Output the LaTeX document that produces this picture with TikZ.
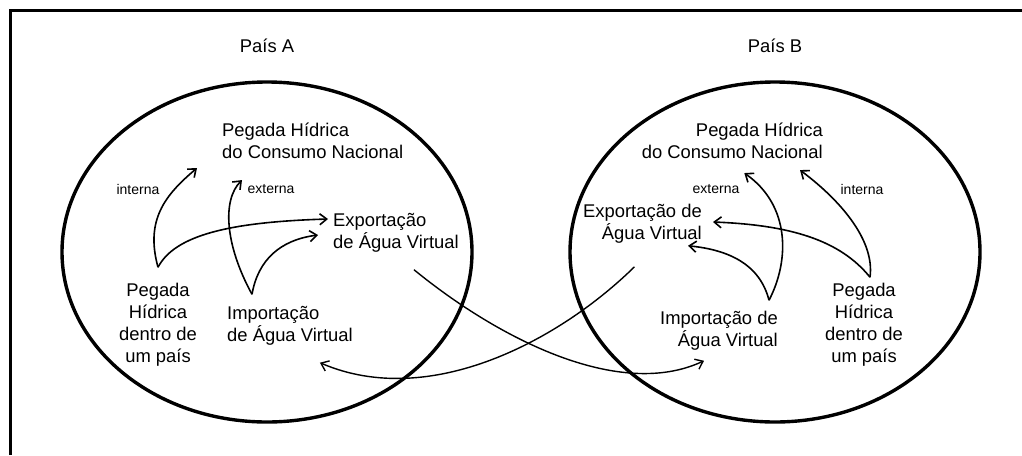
\documentclass[tikz,border=0pt]{standalone}
\usepackage{fontspec}
\setmainfont{Liberation Sans}
\usetikzlibrary{shapes.geometric, arrows.meta, positioning}

\begin{document}
\begin{tikzpicture}[x=1pt, y=-1pt, node distance=2cm]
    \tikzstyle{country} = [ellipse, draw=black, line width=3.4pt, minimum width=410pt, minimum height=340pt, inner sep=0pt]
    \tikzstyle{title} = [inner sep=0pt, font=\fontsize{18.4}{22}\selectfont]
    \tikzstyle{block} = [inner sep=0pt, font=\fontsize{18.4}{22}\selectfont]
    \tikzstyle{tag} = [inner sep=0pt, font=\fontsize{14}{16}\selectfont]
    \tikzstyle{arrow} = [line width=1.6pt, -{Straight Barb[length=7pt,width=11pt]}]
    \tikzstyle{flow} = [line width=1.4pt, -{Straight Barb[length=7pt,width=11pt]}]

    \useasboundingbox (0,0) rectangle (1022,455);
    \draw [line width=3pt] (10,455) |- (1022,10);

    \node (paisA) [country] at (267,252) {};
    \node (paisB) [country] at (775,252) {};
    \node (titA) [title, above=27pt of paisA] {País A};
    \node (titB) [title, above=27pt of paisB] {País B};

    \node (conA) [block, align=left, anchor=west] at (222,141) {Pegada Hídrica\\do Consumo Nacional};
    \node (expA) [block, align=left, anchor=west] at (333,233) {Exportação\\de Água Virtual};
    \node (pegA) [block, align=center] at (158,325) {Pegada\\Hídrica\\dentro de\\um país};
    \node (impA) [block, align=left, anchor=west] at (227,326) {Importação\\de Água Virtual};
    \node (intA) [tag] at (138,189) {interna};
    \node (extA) [tag] at (271,189) {externa};

    \node (conB) [block, align=right, anchor=east] at (823,141) {Pegada Hídrica\\do Consumo Nacional};
    \node (expB) [block, align=right, anchor=east] at (702,224) {Exportação de\\Água Virtual};
    \node (impB) [block, align=right, anchor=east] at (778,331) {Importação de\\Água Virtual};
    \node (pegB) [block, align=center] at (864,325) {Pegada\\Hídrica\\dentro de\\um país};
    \node (extB) [tag] at (716,189) {externa};
    \node (intB) [tag] at (862,189) {interna};

    % inside A
    \draw [arrow] ([yshift=16pt]pegA.north) .. controls (145,220) and (165,195) .. ([xshift=-25pt,yshift=-9pt]conA.south west);
    \draw [arrow] ([yshift=16pt]pegA.north) .. controls (175,235) and (230,222) .. ([xshift=-5pt,yshift=14pt]expA.west);
    \draw [arrow] ([xshift=25pt,yshift=12pt]impA.north west) .. controls (225,245) and (222,200) .. ([xshift=20pt,yshift=-21pt]conA.south west);
    \draw [arrow] ([xshift=25pt,yshift=12pt]impA.north west) .. controls (258,260) and (280,240) .. ([xshift=-15pt,yshift=-2pt]expA.west);

    % inside B
    \draw [arrow] ([xshift=6pt,yshift=6pt]pegB.north) .. controls (875,240) and (840,200) .. ([xshift=-23pt,yshift=-11pt]conB.south east);
    \draw [arrow] ([xshift=6pt,yshift=6pt]pegB.north) .. controls (840,240) and (790,225) .. ([xshift=11pt,yshift=2pt]expB.east);
    \draw [arrow] ([xshift=-9pt,yshift=11pt]impB.north east) .. controls (790,260) and (790,205) .. ([xshift=12pt,yshift=-14pt]conB.south);
    \draw [arrow] ([xshift=-9pt,yshift=11pt]impB.north east) .. controls (760,265) and (730,250) .. ([xshift=-14pt,yshift=-2pt]expB.south east);

    % trade between countries
    \draw [flow] ([xshift=18pt,yshift=-17pt]expA.south) .. controls (500,340) and (620,400) .. ([xshift=-15pt,yshift=-10pt]impB.south);
    \draw [flow] ([xshift=-8pt,yshift=-23pt]expB.south) .. controls (560,340) and (430,410) .. ([xshift=30pt,yshift=-17pt]impA.south);
\end{tikzpicture}
\end{document}
